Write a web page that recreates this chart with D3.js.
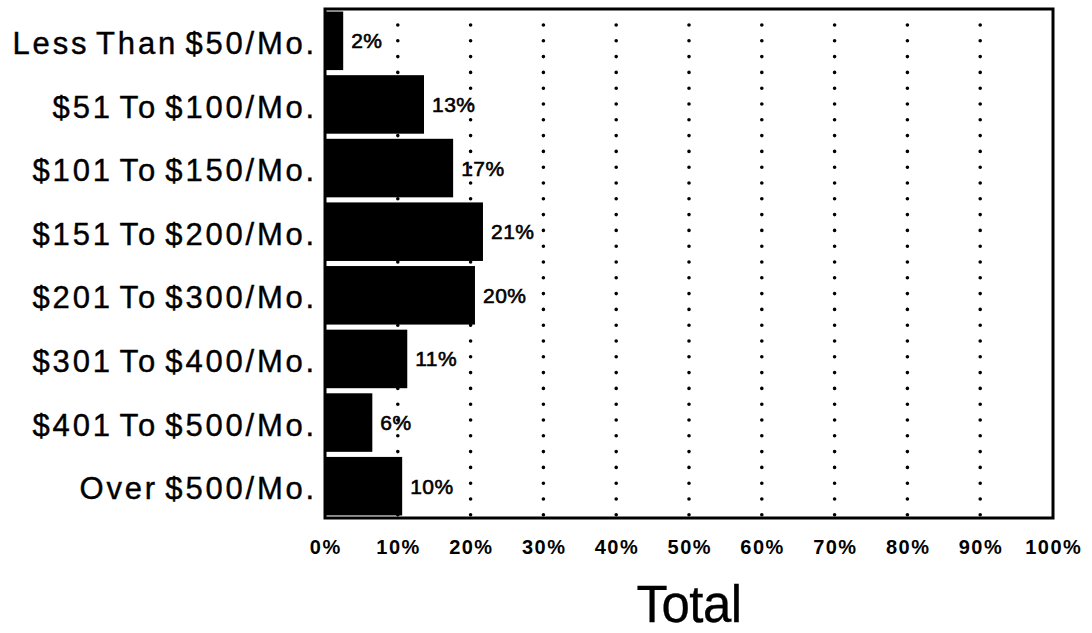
<!DOCTYPE html>
<html>
<head>
<meta charset="utf-8">
<script src="https://cdn.jsdelivr.net/npm/d3@7"></script>
<style>
  html, body { margin: 0; padding: 0; background: #fff; }
  svg { display: block; font-family: "Liberation Sans", Arial, Helvetica, sans-serif; }
</style>
</head>
<body>
<svg id="chart" width="1092" height="633"></svg>
<script>
const categories = [
  "Less Than $50/Mo.",
  "$51 To $100/Mo.",
  "$101 To $150/Mo.",
  "$151 To $200/Mo.",
  "$201 To $300/Mo.",
  "$301 To $400/Mo.",
  "$401 To $500/Mo.",
  "Over $500/Mo."
];
const values = [2.5, 13.6, 17.6, 21.7, 20.6, 11.3, 6.5, 10.6];
const valueLabels = ["2%", "13%", "17%", "21%", "20%", "11%", "6%", "10%"];
const tickValues = [0, 10, 20, 30, 40, 50, 60, 70, 80, 90, 100];
const axisTitle = "Total";

(function () {
const svg = d3.select("#chart");
const pL = 325, pR = 1053, pT = 9, pB = 518;

const x = d3.scaleLinear().domain([0, 100]).range([pL, pR]);
const y = d3.scaleBand().domain(categories).range([pT, pB])
  .paddingInner(0.08).paddingOuter(0.04);

// dotted gridlines
svg.append("g").selectAll("line")
  .data(tickValues.filter(t => t > 0 && t < 100))
  .join("line")
  .attr("x1", d => x(d)).attr("x2", d => x(d))
  .attr("y1", pT + 16).attr("y2", pB)
  .attr("stroke", "#000")
  .attr("stroke-width", 3.6)
  .attr("stroke-linecap", "round")
  .attr("stroke-dasharray", "0,15.8");

// bars
svg.append("g").selectAll("rect")
  .data(values)
  .join("rect")
  .attr("x", x(0))
  .attr("y", (d, i) => y(categories[i]))
  .attr("width", d => x(d) - x(0))
  .attr("height", y.bandwidth())
  .attr("fill", "#000");

// value labels
svg.append("g").selectAll("text")
  .data(values)
  .join("text")
  .attr("x", d => x(d) + 8)
  .attr("y", (d, i) => y(categories[i]) + y.bandwidth() / 2)
  .attr("dy", "0.36em")
  .attr("font-size", 21)
  .attr("letter-spacing", 0.5)
  .attr("fill", "#000")
  .attr("stroke", "#000")
  .attr("stroke-width", 0.6)
  .text((d, i) => valueLabels[i]);

// frame
svg.append("rect")
  .attr("x", pL).attr("y", pT)
  .attr("width", pR - pL).attr("height", pB - pT)
  .attr("fill", "none")
  .attr("stroke", "#000")
  .attr("stroke-width", 3);

// category labels
svg.append("g").selectAll("text")
  .data(categories)
  .join("text")
  .attr("x", pL - 8)
  .attr("y", d => y(d) + y.bandwidth() / 2 + 2)
  .attr("dy", "0.36em")
  .attr("text-anchor", "end")
  .attr("font-size", 31)
  .attr("letter-spacing", 2.8)
  .attr("word-spacing", -4)
  .attr("fill", "#000")
  .attr("stroke", "#000")
  .attr("stroke-width", 0.4)
  .text(d => d);

// x tick labels
svg.append("g").selectAll("text")
  .data(tickValues)
  .join("text")
  .attr("x", d => x(d) + 0.8)
  .attr("y", 554)
  .attr("text-anchor", "middle")
  .attr("font-size", 20)
  .attr("font-weight", "bold")
  .attr("letter-spacing", 1.5)
  .attr("fill", "#000")
  .text(d => d + "%");

// axis title
svg.append("text")
  .attr("x", (pL + pR) / 2)
  .attr("y", 622)
  .attr("text-anchor", "middle")
  .attr("font-size", 51)
  .attr("letter-spacing", -0.5)
  .attr("fill", "#000")
  .attr("stroke", "#000")
  .attr("stroke-width", 0.3)
  .text(axisTitle);
})();
</script>
</body>
</html>
